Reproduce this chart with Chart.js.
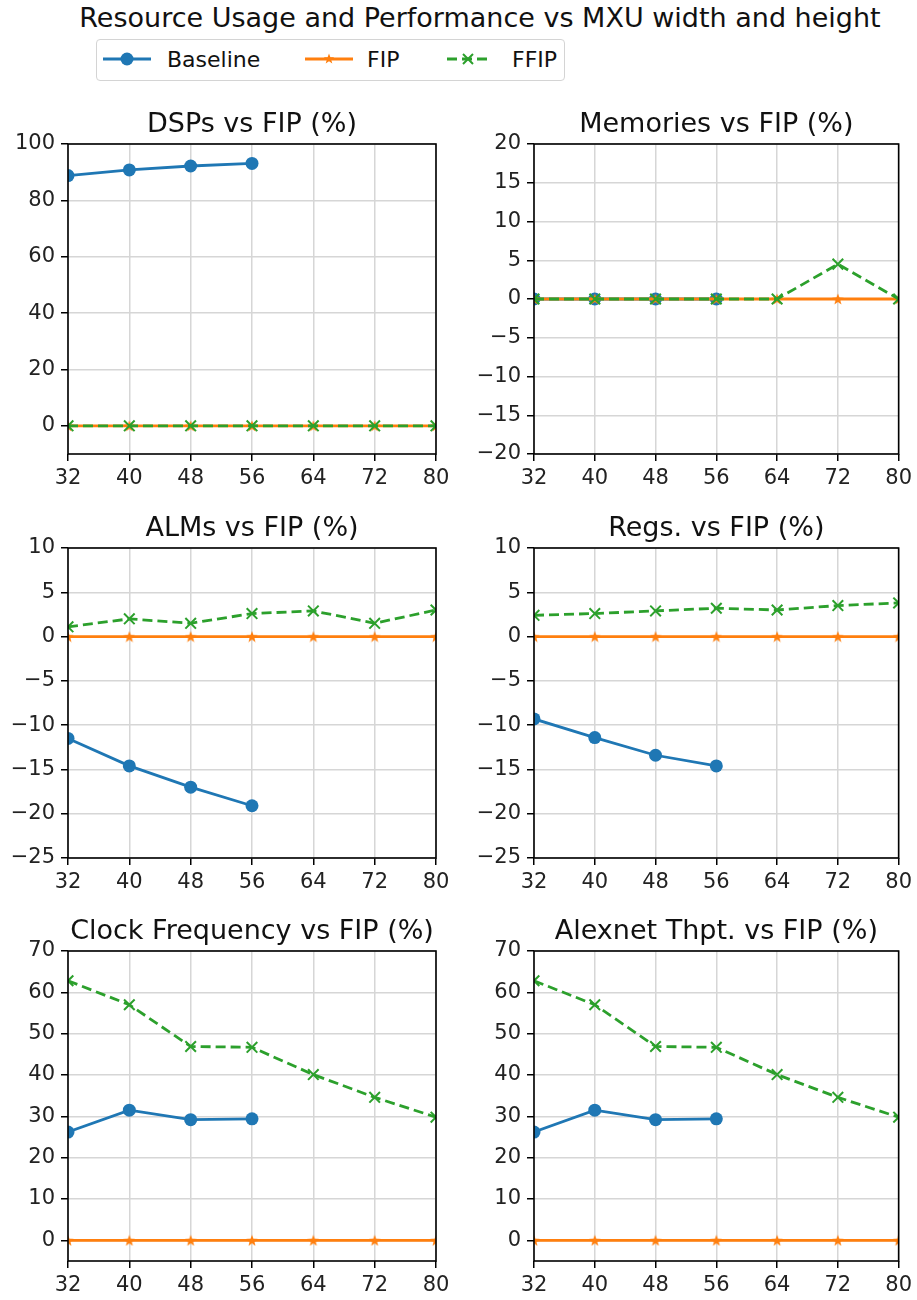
<!DOCTYPE html>
<html>
<head>
<meta charset="utf-8">
<script src="https://cdn.jsdelivr.net/npm/chart.js@4.4.0/dist/chart.umd.min.js"></script>
<style>
  body { margin: 0; background: #fff; width: 917px; height: 1300px; overflow: hidden; position: relative; font-family: "DejaVu Sans", sans-serif; color: #111; }
  #suptitle { position: absolute; left: 0; top: 1px; width: 960px; text-align: center; font-size: 27px; line-height: 34px; white-space: nowrap; }
  #legend { position: absolute; left: 96px; top: 39px; width: 467px; height: 40px; border: 1px solid #d4d4d4; border-radius: 4px; background: #fff; }
  #legend svg, #legend span { position: absolute; }
  #legend span { top: 0; font-size: 22px; line-height: 40px; color: #111; }
  .panel { position: absolute; }
</style>
</head>
<body>
<div id="suptitle">Resource Usage and Performance vs MXU width and height</div>
<div id="legend">
  <svg style="left:6px;top:7px" width="48" height="24"><line x1="0" y1="12" x2="48" y2="12" stroke="#1f77b4" stroke-width="2.8"/><circle cx="24" cy="12" r="6.5" fill="#1f77b4"/></svg>
  <span style="left:70px">Baseline</span>
  <svg style="left:208px;top:7px" width="48" height="24"><line x1="0" y1="12" x2="48" y2="12" stroke="#ff7f0e" stroke-width="2.8"/><polygon points="24,6.5 25.4,10.2 29.2,10.3 26.2,12.7 27.3,16.5 24,14.3 20.7,16.5 21.8,12.7 18.8,10.3 22.6,10.2" fill="#ff7f0e"/></svg>
  <span style="left:270px">FIP</span>
  <svg style="left:350px;top:7px" width="42" height="24"><line x1="0" y1="12" x2="42" y2="12" stroke="#2ca02c" stroke-width="2.8" stroke-dasharray="10,5"/><path d="M16 7 L26 17 M26 7 L16 17" stroke="#2ca02c" stroke-width="2"/></svg>
  <span style="left:415px">FFIP</span>
</div>

<div class="panel" style="left:0;top:96px"><canvas id="c0" width="460" height="400"></canvas></div>
<div class="panel" style="left:460px;top:96px"><canvas id="c1" width="457" height="400"></canvas></div>
<div class="panel" style="left:0;top:500px"><canvas id="c2" width="460" height="400"></canvas></div>
<div class="panel" style="left:460px;top:500px"><canvas id="c3" width="457" height="400"></canvas></div>
<div class="panel" style="left:0;top:903px"><canvas id="c4" width="460" height="400"></canvas></div>
<div class="panel" style="left:460px;top:903px"><canvas id="c5" width="457" height="400"></canvas></div>

<script>
// MXU width/height on the x axis
const widths = [32, 40, 48, 56, 64, 72, 80];
const baselineWidths = [32, 40, 48, 56];

// values in % relative to FIP
const dspsBaseline = [88.8, 90.8, 92.2, 93.1];
const dspsFip = [0, 0, 0, 0, 0, 0, 0];
const dspsFfip = [0, 0, 0, 0, 0, 0, 0];

const memBaseline = [0, 0, 0, 0];
const memFip = [0, 0, 0, 0, 0, 0, 0];
const memFfip = [0, 0, 0, 0, 0, 4.5, 0];

const almsBaseline = [-11.5, -14.6, -17.0, -19.1];
const almsFip = [0, 0, 0, 0, 0, 0, 0];
const almsFfip = [1.1, 2.0, 1.5, 2.6, 2.9, 1.5, 3.0];

const regsBaseline = [-9.3, -11.4, -13.4, -14.6];
const regsFip = [0, 0, 0, 0, 0, 0, 0];
const regsFfip = [2.4, 2.6, 2.9, 3.2, 3.0, 3.5, 3.8];

const clockBaseline = [26.2, 31.5, 29.2, 29.4];
const clockFip = [0, 0, 0, 0, 0, 0, 0];
const clockFfip = [62.8, 57.0, 46.9, 46.7, 40.1, 34.6, 29.8];

const alexBaseline = [26.2, 31.5, 29.2, 29.4];
const alexFip = [0, 0, 0, 0, 0, 0, 0];
const alexFfip = [62.8, 57.0, 46.9, 46.7, 40.1, 34.6, 29.8];

// y limits and step per panel
const yMins = [-10, -20, -25, -25, -5, -5];
const yMaxs = [100, 20, 10, 10, 70, 70];
const ySteps = [20, 5, 5, 5, 10, 10];

const panels = [
    { title: 'DSPs vs FIP (%)', base: dspsBaseline, fip: dspsFip, ffip: dspsFfip },
    { title: 'Memories vs FIP (%)', base: memBaseline, fip: memFip, ffip: memFfip },
    { title: 'ALMs vs FIP (%)', base: almsBaseline, fip: almsFip, ffip: almsFfip },
    { title: 'Regs. vs FIP (%)', base: regsBaseline, fip: regsFip, ffip: regsFfip },
    { title: 'Clock Frequency vs FIP (%)', base: clockBaseline, fip: clockFip, ffip: clockFfip },
    { title: 'Alexnet Thpt. vs FIP (%)', base: alexBaseline, fip: alexFip, ffip: alexFfip }
];

const BLUE = '#1f77b4', ORANGE = '#ff7f0e', GREEN = '#2ca02c';
const FONT = '"DejaVu Sans", sans-serif';

function starMarker(color, size) {
    const c = document.createElement('canvas');
    c.width = c.height = size;
    const g = c.getContext('2d');
    g.fillStyle = color;
    g.beginPath();
    for (let i = 0; i < 10; i++) {
        const r = i % 2 ? size * 0.21 : size / 2;
        const a = -Math.PI / 2 + i * Math.PI / 5;
        g.lineTo(size / 2 + r * Math.cos(a), size / 2 + r * Math.sin(a) + size * 0.05);
    }
    g.closePath();
    g.fill();
    return c;
}
const star = starMarker(ORANGE, 12);

// black box round the plot area, like matplotlib spines
const frame = {
    id: 'frame',
    afterDatasetsDraw(chart) {
        const a = chart.chartArea, ctx = chart.ctx;
        ctx.save();
        ctx.strokeStyle = '#000';
        ctx.lineWidth = 1.6;
        ctx.strokeRect(a.left, a.top, a.right - a.left, a.bottom - a.top);
        ctx.restore();
    }
};

const pts = (xs, ys) => ys.map((y, i) => ({ x: xs[i], y: y }));
const minus = v => String(v).replace('-', '\u2212');

panels.forEach((p, i) => {
    const rightCol = i % 2 === 1;
    new Chart(document.getElementById('c' + i), {
        type: 'line',
        data: {
            datasets: [{
                label: 'Baseline',
                data: pts(baselineWidths, p.base),
                borderColor: BLUE,
                backgroundColor: BLUE,
                borderWidth: 2.8,
                pointRadius: 6.5,
                pointBorderWidth: 0,
                order: 3
            }, {
                label: 'FIP',
                data: pts(widths, p.fip),
                borderColor: ORANGE,
                backgroundColor: ORANGE,
                borderWidth: 2.8,
                pointStyle: star,
                order: 2
            }, {
                label: 'FFIP',
                data: pts(widths, p.ffip),
                borderColor: GREEN,
                backgroundColor: GREEN,
                borderWidth: 2.8,
                borderDash: [10, 5],
                pointStyle: 'crossRot',
                pointRadius: 7.5,
                pointBorderWidth: 2,
                order: 1
            }]
        },
        options: {
            responsive: false,
            animation: false,
            clip: 0,
            layout: { padding: { left: 0, right: rightCol ? 15 : 24, top: 0, bottom: 0 } },
            plugins: {
                legend: { display: false },
                tooltip: { enabled: false },
                title: {
                    display: true,
                    fullSize: false,
                    text: p.title,
                    color: '#111',
                    font: { family: FONT, size: 27, weight: 'normal' },
                    padding: { top: 13, bottom: 2.6 }
                }
            },
            scales: {
                x: {
                    type: 'linear',
                    min: 32,
                    max: 80,
                    afterFit: s => { s.height = 42; },
                    border: { display: false },
                    grid: { color: '#d6d6d6', lineWidth: 1.5, tickColor: '#000', tickLength: 7, tickWidth: 1.5 },
                    ticks: { stepSize: 8, color: '#222', padding: 5, font: { family: FONT, size: 21 }, maxRotation: 0 }
                },
                y: {
                    min: yMins[i],
                    max: yMaxs[i],
                    afterFit: s => { s.width = rightCol ? 74 : 68; },
                    border: { display: false },
                    grid: { color: '#d6d6d6', lineWidth: 1.5, tickColor: '#000', tickLength: 7, tickWidth: 1.5 },
                    ticks: { stepSize: ySteps[i], includeBounds: false, color: '#222', padding: 6, font: { family: FONT, size: 21 }, callback: minus }
                }
            }
        },
        plugins: [frame]
    });
});
</script>
</body>
</html>
